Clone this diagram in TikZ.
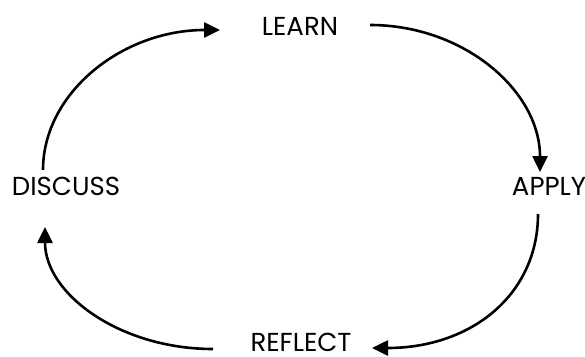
\documentclass[tikz,border=0pt]{standalone}
\usepackage{fontspec}
\setmainfont{Poppins}
\usetikzlibrary{arrows.meta}
\begin{document}
\begin{tikzpicture}[x=1pt,y=-1pt,
  lbl/.style={font=\fontsize{26}{30}\selectfont, inner sep=0pt, anchor=base},
  cyc/.style={line width=2.6pt, -{Triangle[length=16pt,width=15pt]}}]
\useasboundingbox (0,0) rectangle (585,356);
\node[lbl] (learn) at (300,35) {LEARN};
\node[lbl] (apply) at (549,195) {APPLY};
\node[lbl] (reflect) at (301,351.5) {REFLECT};
\node[lbl] (discuss) at (66,195) {DISCUSS};
\coordinate (a1s) at (370,25);
\coordinate (a1e) at (540,172);
\coordinate (a2s) at (538,214);
\coordinate (a2e) at (372,348);
\coordinate (a3s) at (213,349);
\coordinate (a3e) at (45,227);
\coordinate (a4s) at (43,170);
\coordinate (a4e) at (220,30);
\draw[cyc] (a1s) .. controls +(94,0) and +(0,-81) .. (a1e);
\draw[cyc] (a2s) .. controls +(0,80) and +(100,0) .. (a2e);
\draw[cyc] (a3s) .. controls +(-93,0) and +(0,67) .. (a3e);
\draw[cyc] (a4s) .. controls +(0,-77) and +(-98,0) .. (a4e);
\end{tikzpicture}
\end{document}
